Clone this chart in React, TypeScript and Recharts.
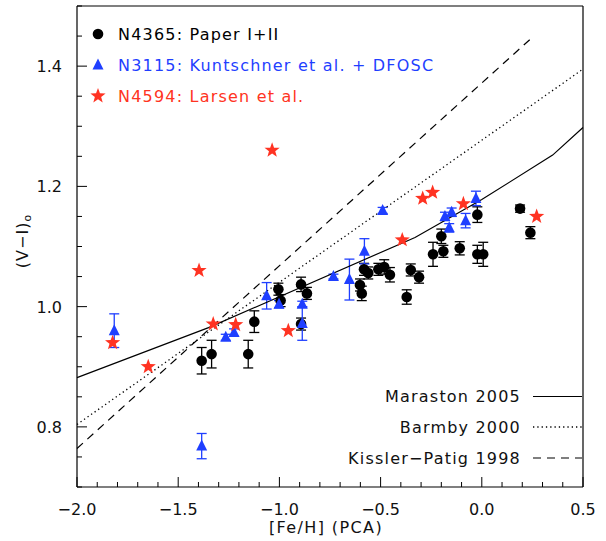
import { ErrorBar, Scatter, ScatterChart, XAxis, YAxis } from "recharts";

const W = 606;
const H = 541;
// each axis takes 1px, so the plot spans x 77..583 and y 6..487
const MARGIN = { top: 5, right: 22, bottom: 53, left: 76 };
const FONT = "'DejaVu Sans', sans-serif";
const BLUE = "#1f3fff";
const RED = "#ff3322";

// axis ticks
const X_TICKS = [
  -2.0, -1.9, -1.8, -1.7, -1.6, -1.5, -1.4, -1.3, -1.2, -1.1, -1.0, -0.9, -0.8,
  -0.7, -0.6, -0.5, -0.4, -0.3, -0.2, -0.1, 0.0, 0.1, 0.2, 0.3, 0.4, 0.5,
];
const X_LABELED = [-2.0, -1.5, -1.0, -0.5, 0.0, 0.5];
const Y_TICKS = [
  0.7, 0.75, 0.8, 0.85, 0.9, 0.95, 1.0, 1.05, 1.1, 1.15, 1.2, 1.25, 1.3, 1.35,
  1.4, 1.45, 1.5,
];
const Y_LABELED = [0.8, 1.0, 1.2, 1.4];

// N4365: Paper I+II
const N4365_FEH = [
  -1.384, -1.335, -1.154, -1.124, -1.005, -0.994, -0.893, -0.864, -0.893,
  -0.602, -0.593, -0.582, -0.561, -0.511, -0.482, -0.454, -0.371, -0.351,
  -0.31, -0.241, -0.2, -0.19, -0.109, -0.022, -0.022, 0.007, 0.189, 0.24,
];
const N4365_VI = [
  0.91, 0.921, 0.921, 0.975, 1.029, 1.01, 1.037, 1.022, 0.971, 1.036, 1.022,
  1.062, 1.056, 1.062, 1.066, 1.053, 1.016, 1.061, 1.049, 1.087, 1.117, 1.092,
  1.097, 1.153, 1.087, 1.087, 1.163, 1.123,
];
const N4365_ERR = [
  0.022, 0.023, 0.023, 0.018, 0.01, 0.01, 0.012, 0.01, 0.01, 0.01, 0.012, 0.01,
  0.01, 0.01, 0.012, 0.012, 0.012, 0.01, 0.01, 0.02, 0.012, 0.01, 0.011, 0.013,
  0.015, 0.02, 0.006, 0.01,
];

// N3115: Kuntschner et al. + DFOSC
const N3115_FEH = [
  -1.816, -1.384, -1.265, -1.224, -1.063, -1.002, -0.887, -0.887, -0.733,
  -0.654, -0.58, -0.49, -0.182, -0.149, -0.161, -0.08, -0.029,
];
const N3115_VI = [
  0.96, 0.768, 0.949, 0.957, 1.018, 1.004, 1.004, 0.972, 1.05, 1.045, 1.092,
  1.16, 1.15, 1.157, 1.131, 1.143, 1.18,
];
const N3115_ERR = [
  0.028, 0.021, 0.005, 0.006, 0.022, 0.006, 0.005, 0.028, 0.004, 0.034, 0.021,
  0.005, 0.007, 0.007, 0.007, 0.012, 0.012,
];

// N4594: Larsen et al.
const N4594_FEH = [
  -1.824, -1.648, -1.397, -1.327, -1.216, -1.036, -0.956, -0.393, -0.292,
  -0.243, -0.091, 0.271,
];
const N4594_VI = [
  0.94, 0.9, 1.06, 0.971, 0.97, 1.26, 0.96, 1.111, 1.18, 1.19, 1.171, 1.15,
];

// model relations
const MARASTON_FEH = [-2.0, -1.35, -0.33, 0.0, 0.35, 0.5];
const MARASTON_VI = [0.882, 0.965, 1.115, 1.178, 1.252, 1.298];
const BARMBY_FEH = [-2.0, 0.5];
const BARMBY_VI = [0.804, 1.395];
const KP_FEH = [-2.0, 0.25];
const KP_VI = [0.764, 1.448];

const zip = (xs: number[], ys: number[], es?: number[]) =>
  xs.map((x, i) => ({ x, y: ys[i], err: es ? es[i] : 0 }));

const n4365 = zip(N4365_FEH, N4365_VI, N4365_ERR);
const n3115 = zip(N3115_FEH, N3115_VI, N3115_ERR);
const n4594 = zip(N4594_FEH, N4594_VI);
const maraston = zip(MARASTON_FEH, MARASTON_VI);
const barmby = zip(BARMBY_FEH, BARMBY_VI);
const kisslerPatig = zip(KP_FEH, KP_VI);

const isIn = (v: number, list: number[]) => list.some((t) => Math.abs(t - v) < 1e-6);
const fmt = (v: number) => (v < -1e-9 ? "\u2212" : "") + Math.abs(v).toFixed(1);

function starPoints(cx: number, cy: number, R: number, r: number) {
  const pts: string[] = [];
  for (let i = 0; i < 10; i++) {
    const a = -Math.PI / 2 + (i * Math.PI) / 5;
    const rad = i % 2 === 0 ? R : r;
    pts.push(`${cx + rad * Math.cos(a)},${cy + rad * Math.sin(a)}`);
  }
  return pts.join(" ");
}

const Dot = (cx: number, cy: number) => <circle cx={cx} cy={cy} r={5.3} fill="#000" />;
const Tri = (cx: number, cy: number) => (
  <polygon
    points={`${cx},${cy - 6.5} ${cx - 5.5},${cy + 4.5} ${cx + 5.5},${cy + 4.5}`}
    fill={BLUE}
  />
);
const Star = (cx: number, cy: number) => (
  <polygon points={starPoints(cx, cy, 8, 3.3)} fill={RED} />
);

const tickText = { fontFamily: FONT, fontSize: 16, fill: "#111" };

function BottomTick(p: any) {
  const major = isIn(p.payload.value, X_LABELED);
  return (
    <g>
      <line x1={p.x} x2={p.x} y1={p.y} y2={p.y - (major ? 10 : 5)} stroke="#000" />
      {major && (
        <text x={p.x} y={p.y + 28} textAnchor="middle" {...tickText}>
          {fmt(p.payload.value)}
        </text>
      )}
    </g>
  );
}

function TopTick(p: any) {
  const major = isIn(p.payload.value, X_LABELED);
  return <line x1={p.x} x2={p.x} y1={p.y} y2={p.y + (major ? 10 : 5)} stroke="#000" />;
}

function LeftTick(p: any) {
  const major = isIn(p.payload.value, Y_LABELED);
  return (
    <g>
      <line x1={p.x} x2={p.x + (major ? 10 : 5)} y1={p.y} y2={p.y} stroke="#000" />
      {major && (
        <text x={p.x - 15} y={p.y + 6} textAnchor="end" {...tickText}>
          {p.payload.value.toFixed(1)}
        </text>
      )}
    </g>
  );
}

function RightTick(p: any) {
  const major = isIn(p.payload.value, Y_LABELED);
  return <line x1={p.x} x2={p.x - (major ? 10 : 5)} y1={p.y} y2={p.y} stroke="#000" />;
}

const noShape = () => <g />;
const axisLine = { stroke: "#000", strokeWidth: 1.2 };
const legendText = { fontFamily: FONT, fontSize: 16, letterSpacing: 1.2 };

export default function App() {
  return (
    <div style={{ position: "absolute", left: 0, top: 0, width: W, height: H, background: "#fff" }}>
      <ScatterChart width={W} height={H} margin={MARGIN}>
        <XAxis
          dataKey="x"
          type="number"
          domain={[-2.0, 0.5]}
          ticks={X_TICKS}
          interval={0}
          height={1}
          tickSize={0}
          tickMargin={0}
          tickLine={false}
          axisLine={axisLine}
          tick={BottomTick}
        />
        <XAxis
          xAxisId="top"
          orientation="top"
          dataKey="x"
          type="number"
          domain={[-2.0, 0.5]}
          ticks={X_TICKS}
          interval={0}
          height={1}
          tickSize={0}
          tickMargin={0}
          tickLine={false}
          axisLine={axisLine}
          tick={TopTick}
        />
        <YAxis
          dataKey="y"
          type="number"
          domain={[0.7, 1.5]}
          ticks={Y_TICKS}
          interval={0}
          width={1}
          tickSize={0}
          tickMargin={0}
          tickLine={false}
          axisLine={axisLine}
          tick={LeftTick}
        />
        <YAxis
          yAxisId="right"
          orientation="right"
          dataKey="y"
          type="number"
          domain={[0.7, 1.5]}
          ticks={Y_TICKS}
          interval={0}
          width={1}
          tickSize={0}
          tickMargin={0}
          tickLine={false}
          axisLine={axisLine}
          tick={RightTick}
        />
        <Scatter
          data={maraston}
          fill="#000"
          stroke="#000"
          line={{ stroke: "#000", strokeWidth: 1.2 }}
          shape={noShape}
          isAnimationActive={false}
        />
        <Scatter
          data={barmby}
          fill="#000"
          stroke="#000"
          line={{ stroke: "#000", strokeWidth: 1.3, strokeDasharray: "1.3 3" }}
          shape={noShape}
          isAnimationActive={false}
        />
        <Scatter
          data={kisslerPatig}
          fill="#000"
          stroke="#000"
          line={{ stroke: "#000", strokeWidth: 1.2, strokeDasharray: "8 6" }}
          shape={noShape}
          isAnimationActive={false}
        />
        <Scatter data={n4365} fill="#000" shape={(p: any) => Dot(p.cx, p.cy)} isAnimationActive={false}>
          <ErrorBar dataKey="err" direction="y" width={5} stroke="#000" strokeWidth={1.3} />
        </Scatter>
        <Scatter data={n3115} fill={BLUE} shape={(p: any) => Tri(p.cx, p.cy)} isAnimationActive={false}>
          <ErrorBar dataKey="err" direction="y" width={5} stroke={BLUE} strokeWidth={1.3} />
        </Scatter>
        <Scatter data={n4594} fill={RED} shape={(p: any) => Star(p.cx, p.cy)} isAnimationActive={false} />
      </ScatterChart>
      <svg
        width={W}
        height={H}
        style={{ position: "absolute", left: 0, top: 0, pointerEvents: "none" }}
      >
        {Dot(98, 34)}
        <text x={118} y={40} fill="#000" {...legendText}>N4365: Paper I+II</text>
        {Tri(98, 65)}
        <text x={118} y={71} fill={BLUE} {...legendText}>N3115: Kuntschner et al. + DFOSC</text>
        {Star(98, 96)}
        <text x={118} y={102} fill={RED} {...legendText}>N4594: Larsen et al.</text>

        <text x={521} y={402} textAnchor="end" fill="#111" {...legendText}>Maraston 2005</text>
        <line x1={533} x2={582} y1={396.5} y2={396.5} stroke="#000" strokeWidth={1.2} />
        <text x={521} y={433} textAnchor="end" fill="#111" {...legendText}>Barmby 2000</text>
        <line x1={533} x2={582} y1={427} y2={427} stroke="#000" strokeWidth={1.3} strokeDasharray="1.3 3" />
        <text x={521} y={464} textAnchor="end" fill="#111" {...legendText}>Kissler{"\u2212"}Patig 1998</text>
        <line x1={533} x2={582} y1={458} y2={458} stroke="#000" strokeWidth={1.2} strokeDasharray="8 6" />

        <text x={326} y={533} textAnchor="middle" fill="#111" fontFamily={FONT} fontSize={16} letterSpacing={1.4}>
          [Fe/H] (PCA)
        </text>
        <text
          transform="translate(28,241) rotate(-90)"
          textAnchor="middle"
          fill="#111"
          fontFamily={FONT}
          fontSize={16}
          letterSpacing={1}
        >
          (V{"\u2212"}I)<tspan fontSize={11} dy={3}>o</tspan>
        </text>
      </svg>
    </div>
  );
}
